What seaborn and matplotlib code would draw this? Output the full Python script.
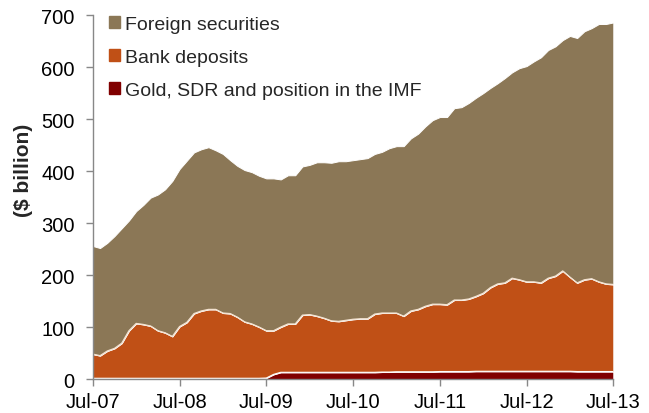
import numpy as np
import pandas as pd
import matplotlib
matplotlib.use("Agg")
import matplotlib.pyplot as plt
from matplotlib.patches import Patch
import seaborn as sns

# monthly, Jul-07 .. Jul-13 ($ billion)
tick_labels = ["Jul-07", "Jul-08", "Jul-09", "Jul-10", "Jul-11", "Jul-12", "Jul-13"]

total = [256, 252, 262, 275, 290, 305, 323, 335, 349, 355, 365, 381,
         404, 420, 436, 442, 446, 440, 433, 421, 410, 402, 398, 391,
         386, 386, 384, 392, 392, 409, 412, 417, 417, 416, 419, 419,
         421, 423, 425, 433, 437, 444, 448, 448, 463, 472, 486, 498,
         504, 504, 521, 523, 531, 541, 550, 560, 569, 579, 590, 598,
         602, 611, 619, 633, 640, 652, 660, 656, 669, 675, 683, 683, 686]

bank_top = [48, 45, 54, 59, 69, 93, 107, 105, 102, 93, 89, 82,
            101, 109, 126, 131, 134, 134, 127, 126, 119, 110, 106, 100,
            93, 93, 100, 106, 106, 123, 124, 121, 117, 112, 111, 113,
            115, 116, 116, 125, 127, 127, 127, 121, 131, 134, 140, 144,
            144, 143, 152, 152, 154, 159, 165, 176, 183, 185, 194, 191,
            187, 187, 185, 194, 198, 208, 196, 185, 191, 193, 187, 183, 182]

gold = [1.5] * 24 + [2, 9, 13, 13, 13, 13, 13, 13, 13, 13, 13, 13,
                     13, 13, 13, 13, 13.5, 13.5, 14, 14, 14, 14, 14, 14,
                     14.5, 14.5, 14.5, 14.5, 14.5, 15, 15, 15, 15, 15, 15, 15,
                     15, 15, 15, 15, 15, 15, 15, 14.5, 14.5, 14.5, 14.5, 14.5, 14.5]

df = pd.DataFrame({"month": np.arange(len(total)), "total": total,
                   "bank_top": bank_top, "gold": gold})
df["bank"] = df["bank_top"] - df["gold"]
df["foreign"] = df["total"] - df["bank_top"]

c_foreign = "#8B7756"
c_bank = "#C05016"
c_gold = "#800000"

sns.set_style("white")
plt.rcParams["font.family"] = ["Liberation Sans", "DejaVu Sans"]

fig = plt.figure(figsize=(6.49, 4.14), dpi=100)
ax = fig.add_axes([0.143, 0.082, 0.802, 0.879])

ax.stackplot(df["month"], df["gold"], df["bank"], df["foreign"],
             colors=[c_gold, c_bank, c_foreign], edgecolor="white", linewidth=0.7)
# white edge lines on top of the lower layers
sns.lineplot(x=df["month"], y=df["gold"], color="white", lw=0.8, ax=ax)
sns.lineplot(x=df["month"], y=df["bank_top"], color="#F3E2D0", lw=0.9, ax=ax)

ax.set_xlim(0, len(total) - 1)
ax.set_ylim(0, 700)
ax.set_yticks(range(0, 701, 100))
ax.set_xticks(range(0, len(total), 12))
ax.set_xticklabels(tick_labels)
ax.tick_params(axis="both", labelsize=14.5, colors="#888888", labelcolor="black",
               length=5, width=1, direction="out", left=True, bottom=True)
ax.tick_params(axis="y", pad=8)
ax.tick_params(axis="x", pad=4)
ax.set_xlabel("")
ax.set_ylabel("($ billion)", fontsize=15, fontweight="bold")
ax.yaxis.set_label_coords(-0.115, 0.577)

for s in ["top", "right"]:
    ax.spines[s].set_visible(False)
for s in ["left", "bottom"]:
    ax.spines[s].set_color("#888888")
    ax.spines[s].set_linewidth(1)

handles = [Patch(color=c_foreign), Patch(color=c_bank), Patch(color=c_gold)]
labels = ["Foreign securities", "Bank deposits", "Gold, SDR and position in the IMF"]
ax.legend(handles, labels, loc="upper left", bbox_to_anchor=(0.004, 1.035), frameon=False,
          fontsize=14, handlelength=0.6, handleheight=0.6, handletextpad=0.25,
          labelspacing=0.82, borderaxespad=0.3)

fig.savefig("out.png", dpi=100)
